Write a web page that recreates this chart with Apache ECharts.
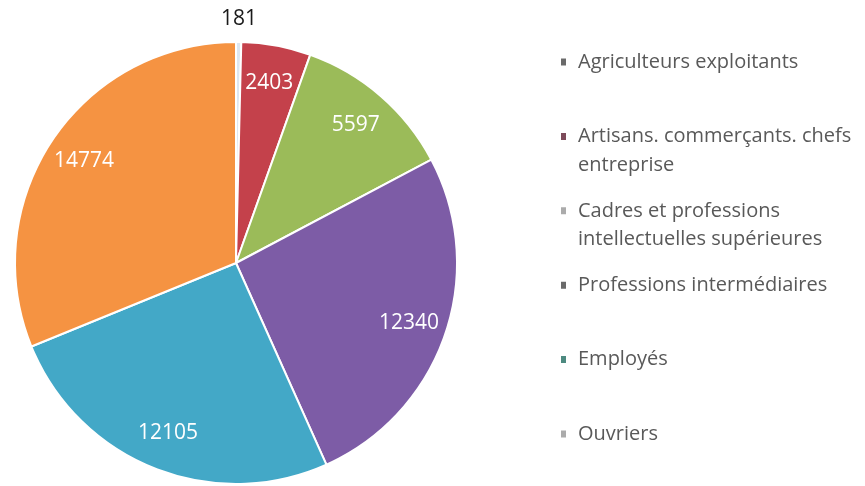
<!DOCTYPE html>
<html>
<head>
<meta charset="utf-8">
<script src="https://cdn.jsdelivr.net/npm/echarts@6/dist/echarts.min.js"></script>
<style>
  html, body { margin: 0; padding: 0; background: #ffffff; }
  #chart { width: 865px; height: 486px; }
</style>
</head>
<body>
<div id="chart"></div>
<script>
// Catégories socioprofessionnelles et effectifs
const categories = [
  'Agriculteurs exploitants',
  'Artisans. commerçants. chefs\nentreprise',
  'Cadres et professions\nintellectuelles supérieures',
  'Professions intermédiaires',
  'Employés',
  'Ouvriers'
];
const values = [181, 2403, 5597, 12340, 12105, 14774];
const sliceColors = ['#dde7f1', '#c4414b', '#9bbb59', '#7d5ca6', '#43a8c7', '#f59342'];
const legendMarkerColors = ['#6a6a6a', '#7d4b5a', '#ababab', '#6a6a6a', '#4d8a80', '#ababab'];

const chart = echarts.init(document.getElementById('chart'));

const CENTER = [236, 263];
const R = 221;
const FONT = 'Open Sans';
const LINE_H = 28.5;

const pieData = categories.map((name, i) => ({
  name,
  value: values[i],
  itemStyle: { color: sliceColors[i] }
}));

// Transparent ring used only to place the value labels at ~80% of the radius
const innerLabelData = categories.map((name, i) => ({
  name,
  value: values[i],
  label: { show: values[i] >= 1000 }
}));
// Outer ring for the small slice whose value sits above the pie
const outerLabelData = categories.map((name, i) => ({
  name,
  value: values[i],
  label: { show: values[i] < 1000 }
}));

// One legend per entry so that two-line names keep their marker on the first line
const legends = categories.map((name, i) => {
  const multi = name.includes('\n');
  const c = 62 + i * 74.4;
  return {
    orient: 'vertical',
    left: 559,
    top: c - LINE_H / 2 - (multi ? LINE_H : 0),
    padding: 0,
    icon: 'rect',
    itemWidth: 7,
    itemHeight: 9,
    itemGap: 0,
    selectedMode: false,
    formatter: (n) => (n.includes('\n') ? ' \n' + n : n),
    textStyle: {
      fontFamily: FONT,
      fontSize: 20,
      color: '#595959',
      lineHeight: LINE_H,
      padding: [0, 0, 0, 6]
    },
    data: [{ name, itemStyle: { color: legendMarkerColors[i] } }]
  };
});

const ringBase = {
  type: 'pie',
  center: CENTER,
  startAngle: 90,
  clockwise: true,
  silent: true,
  avoidLabelOverlap: false,
  itemStyle: { color: 'transparent', borderWidth: 0 },
  labelLine: { show: false },
  emphasis: { disabled: true },
  label: {
    position: 'inside',
    formatter: '{c}',
    fontFamily: FONT,
    fontSize: 21
  }
};

chart.setOption({
  animation: false,
  backgroundColor: '#ffffff',
  legend: legends,
  series: [
    {
      type: 'pie',
      center: CENTER,
      radius: R,
      startAngle: 90,
      clockwise: true,
      avoidLabelOverlap: false,
      itemStyle: { borderColor: '#ffffff', borderWidth: 2 },
      label: { show: false },
      labelLine: { show: false },
      emphasis: { disabled: true },
      data: pieData
    },
    Object.assign({}, ringBase, {
      radius: [139, R],
      label: Object.assign({}, ringBase.label, { color: '#ffffff' }),
      data: innerLabelData
    }),
    Object.assign({}, ringBase, {
      radius: [R, 261],
      label: Object.assign({}, ringBase.label, { color: '#1a1a1a' }),
      data: outerLabelData
    })
  ]
});
</script>
</body>
</html>
